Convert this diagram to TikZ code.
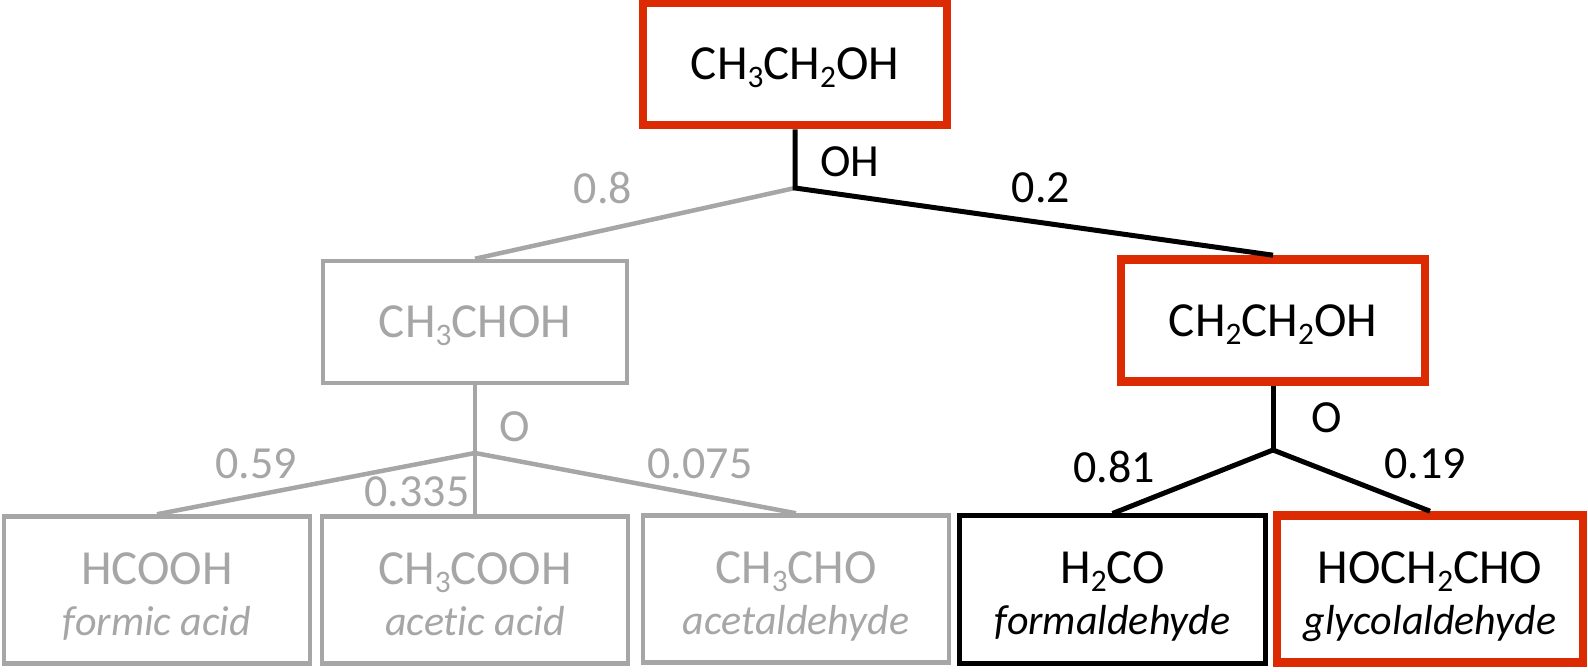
\documentclass[tikz,border=0pt]{standalone}
\usepackage{fontspec}
\setmainfont{Carlito}[Ligatures=CommonOff]
\usepackage{tikz}
\usetikzlibrary{positioning}
\definecolor{pathRed}{HTML}{DC2B02}
\definecolor{pathGray}{HTML}{A6A6A6}
\newcommand\chsub[1]{\raisebox{-4pt}{\scalebox{0.64}{#1}}}
\newcommand\molfont{\fontsize{24.5}{25.5}\selectfont}
\newcommand\namefont{\fontsize{21}{25.5}\selectfont\itshape}
\newcommand\lblfont{\fontsize{23}{27}\selectfont}
\newcommand\leaftext[2]{\rule{0pt}{25.5pt}#1\\{\namefont #2}\rule[-6pt]{0pt}{6pt}}

\begin{document}
\begin{tikzpicture}[
  x=0.5pt,y=-0.5pt,
  box/.style={draw,inner sep=0pt,minimum width=152pt,align=center,font=\molfont},
  upper/.style={box,minimum height=61pt,text depth=0pt},
  lower/.style={box,minimum width=153pt,minimum height=73.5pt},
  sel/.style={draw=pathRed,line width=4.3pt},
  std/.style={draw=black,line width=2.5pt},
  dim/.style={draw=pathGray,text=pathGray,line width=2.25pt},
  link/.style={line width=2.5pt},
  dimlink/.style={link,draw=pathGray,line width=2.25pt},
  frac/.style={font=\lblfont,inner sep=0pt},
  dimfrac/.style={frac,text=pathGray}
]
\useasboundingbox (0,0) rectangle (1588,672);

% molecules
\node[upper,sel] (ethanol) at (795,64) {CH\chsub{3}CH\chsub{2}OH};
\node[upper,dim] (alpha) at (475,322) {CH\chsub{3}CHOH};
\node[upper,sel] (beta) at (1273,320.5) {CH\chsub{2}CH\chsub{2}OH};
\node[lower,dim] (formic) at (157,590) {\leaftext{HCOOH}{formic acid}};
\node[lower,dim] (acetic) at (475,590) {\leaftext{CH\chsub{3}COOH}{acetic acid}};
\node[lower,dim] (acetal) at (796,589) {\leaftext{CH\chsub{3}CHO}{acetaldehyde}};
\node[lower,std] (formal) at (1112.5,589.5) {\leaftext{H\chsub{2}CO}{formaldehyde}};
\node[lower,sel] (glycol) at (1430,589) {\leaftext{HOCH\chsub{2}CHO}{glycolaldehyde}};

% branch points
\coordinate (fork1) at (795,188);
\coordinate (fork2) at (475,453);
\coordinate (fork3) at (1273,450);

\draw[dimlink] (fork1) -- (alpha.north);
\draw[link] (ethanol.south) -- (fork1) -- (beta.north);
\draw[dimlink] (alpha.south) -- (acetic.north);
\draw[dimlink] (fork2) -- (formic.north);
\draw[dimlink] (fork2) -- (acetal.north);
\draw[link] (beta.south) -- (fork3);
\draw[link] (fork3) -- (formal.north);
\draw[link] (fork3) -- (glycol.north);

% branching ratios
\node[dimfrac] (r08) at (603,188) {0.8};
\node[frac] (addOH) at (850,162) {OH};
\node[frac] (r02) at (1041,188) {0.2};
\node[dimfrac] (addOa) at (515,427) {O};
\node[dimfrac] (r059) at (256,464) {0.59};
\node[dimfrac] (r0335) at (417,492) {0.335};
\node[dimfrac] (r0075) at (700,464) {0.075};
\node[frac] (addOb) at (1327,418) {O};
\node[frac] (r081) at (1114,467) {0.81};
\node[frac] (r019) at (1425,464) {0.19};
\end{tikzpicture}
\end{document}
